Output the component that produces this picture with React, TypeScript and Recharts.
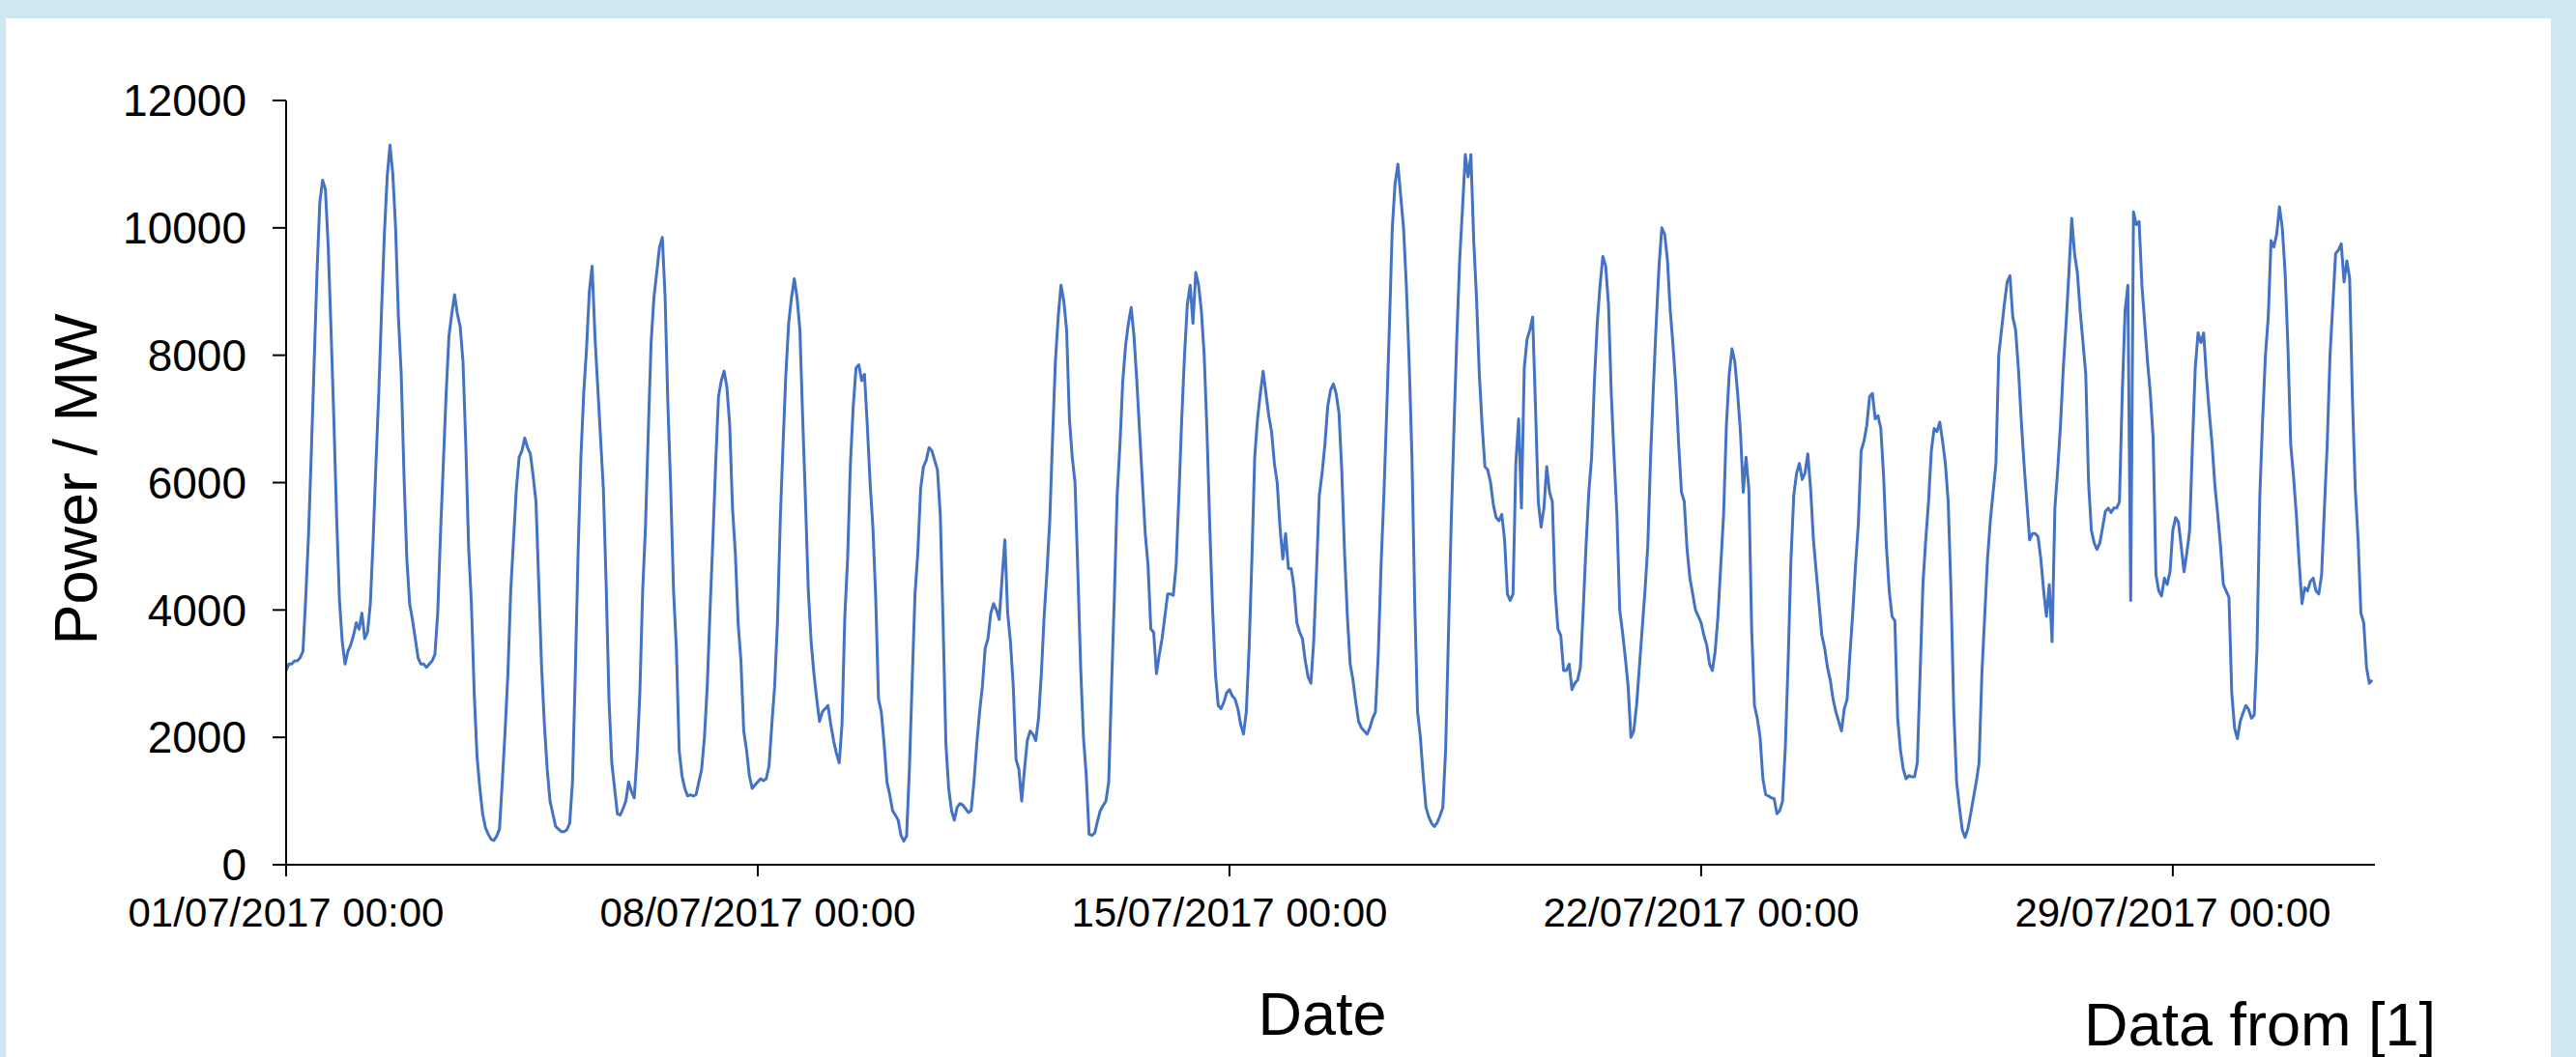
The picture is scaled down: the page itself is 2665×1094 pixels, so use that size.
import { LineChart, Line, XAxis, YAxis, Label } from 'recharts'

// hourly power readings, one line per day (MW)
const week1 = [
  3050, 3150, 3150, 3200, 3200, 3250, 3350, 4200, 5200, 6500, 7900, 9300, 10400, 10750, 10600, 9700, 8400, 7000, 5450, 4150, 3500, 3150, 3350, 3450,
  3600, 3800, 3700, 3950, 3550, 3650, 4100, 5100, 6300, 7400, 8700, 9900, 10800, 11300, 10850, 10000, 8600, 7700, 6100, 4800, 4100, 3850, 3550, 3250,
  3150, 3150, 3100, 3150, 3200, 3300, 3950, 5200, 6300, 7400, 8300, 8650, 8950, 8650, 8450, 7900, 6600, 5000, 4100, 2700, 1700, 1200, 800, 580,
  480, 400, 380, 450, 560, 1300, 2100, 3000, 4300, 5100, 5900, 6400, 6500, 6700, 6550, 6450, 6100, 5700, 4400, 3100, 2200, 1500, 1000, 800,
  600, 560, 520, 520, 550, 650, 1300, 3000, 4900, 6400, 7400, 8100, 9000, 9400, 8300, 7500, 6700, 5900, 4400, 2600, 1600, 1200, 800, 780,
  880, 1000, 1300, 1150, 1050, 1700, 2700, 4300, 5300, 6800, 8200, 8900, 9300, 9700, 9850, 8900, 7200, 5900, 4300, 3400, 1800, 1400, 1200, 1080,
  1100, 1080, 1100, 1300, 1500, 2000, 2800, 4000, 5100, 6300, 7350, 7600, 7750, 7500, 6900, 5600, 4900, 3800, 3200, 2100, 1800, 1400, 1200, 1250,
]

const week2 = [
  1300, 1350, 1320, 1350, 1550, 2200, 2800, 3800, 5400, 6600, 7700, 8500, 8900, 9200, 8900, 8400, 7000, 5700, 4300, 3500, 3000, 2600, 2250, 2400,
  2450, 2500, 2200, 1950, 1750, 1600, 2200, 3900, 4800, 6300, 7200, 7800, 7850, 7600, 7700, 6900, 6000, 5300, 4200, 2600, 2400, 1900, 1300, 1100,
  850, 780, 700, 460, 370, 450, 1500, 2900, 4250, 4900, 5900, 6250, 6350, 6550, 6500, 6350, 6200, 5500, 3800, 1900, 1200, 850, 700, 900,
  960, 940, 880, 820, 850, 1300, 1900, 2400, 2800, 3400, 3550, 3950, 4100, 4000, 3850, 4500, 5100, 3950, 3500, 2800, 1650, 1500, 1000, 1500,
  1950, 2100, 2050, 1950, 2300, 3000, 3900, 4600, 5400, 6700, 7900, 8600, 9100, 8850, 8400, 7000, 6400, 6000, 4600, 3100, 2000, 1400, 480, 460,
  500, 680, 850, 930, 1000, 1300, 2800, 4200, 5800, 6600, 7600, 8150, 8500, 8750, 8300, 7600, 6800, 6000, 5200, 4700, 3700, 3650, 3000, 3300,
  3550, 3900, 4250, 4250, 4230, 4700, 5800, 7000, 8000, 8800, 9100, 8500, 9300, 9100, 8700, 8000, 6800, 5300, 4000, 3000, 2500, 2450, 2550, 2700,
]

const week3 = [
  2750, 2650, 2600, 2450, 2200, 2050, 2400, 3400, 4800, 6400, 7000, 7400, 7750, 7400, 7050, 6800, 6300, 6000, 5300, 4800, 5200, 4650, 4650, 4350,
  3800, 3650, 3550, 3200, 2950, 2850, 3500, 4600, 5800, 6150, 6600, 7200, 7450, 7550, 7400, 7100, 6200, 4900, 3900, 3150, 2900, 2550, 2250, 2150,
  2100, 2050, 2150, 2300, 2400, 3300, 4700, 5800, 7100, 8500, 10000, 10700, 11000, 10500, 10000, 9100, 7900, 6400, 4100, 2400, 2000, 1400, 900, 750,
  650, 600, 660, 770, 900, 1800, 3600, 5400, 6900, 8300, 9500, 10300, 11150, 10800, 11150, 9800, 8900, 7700, 6900, 6250, 6200, 6000, 5650, 5450,
  5400, 5500, 5100, 4250, 4150, 4250, 6300, 7000, 5600, 7800, 8250, 8400, 8600, 7200, 5700, 5300, 5600, 6250, 5850, 5700, 4300, 3700, 3600, 3050,
  3050, 3150, 2750, 2850, 2900, 3100, 4000, 5000, 5850, 6400, 7600, 8500, 9100, 9550, 9400, 8800, 7400, 6400, 5500, 4000, 3650, 3250, 2800, 2000,
  2100, 2500, 3100, 3700, 4300, 5000, 6400, 7500, 8500, 9400, 10000, 9900, 9500, 8700, 8150, 7500, 6600, 5850, 5700, 4950, 4500, 4250, 4000, 3900,
]

const week4 = [
  3800, 3600, 3450, 3150, 3050, 3350, 3900, 4700, 5500, 6900, 7700, 8100, 7900, 7400, 6800, 5850, 6400, 5900, 3700, 2500, 2300, 2000, 1350, 1100,
  1080, 1050, 1040, 800, 850, 1000, 1850, 3200, 4800, 5800, 6150, 6300, 6050, 6150, 6450, 5900, 5100, 4600, 4100, 3600, 3400, 3100, 2900, 2600,
  2400, 2250, 2100, 2450, 2600, 3300, 3950, 4700, 5350, 6500, 6650, 6900, 7350, 7400, 7000, 7050, 6850, 6100, 5000, 4300, 3900, 3830, 2300, 1800,
  1500, 1350, 1400, 1380, 1380, 1600, 3000, 4400, 5100, 5700, 6500, 6850, 6800, 6950, 6650, 6300, 5700, 4300, 2400, 1300, 900, 550, 430, 560,
  800, 1050, 1300, 1600, 3000, 3900, 4800, 5400, 5850, 6300, 8000, 8400, 8800, 9150, 9250, 8600, 8400, 7800, 7000, 6300, 5700, 5100, 5200, 5200,
  5150, 4800, 4300, 3900, 4400, 3500, 5600, 6200, 6900, 7800, 8500, 9300, 10150, 9600, 9300, 8700, 8200, 7700, 6000, 5250, 5050, 4950, 5050, 5300,
  5550, 5600, 5530, 5600, 5600, 5700, 7400, 8700, 9100, 4150, 10250, 10050, 10100, 9100, 8500, 7900, 7400, 6700, 4550, 4300, 4220, 4500, 4400, 4600,
]

const lastDays = [
  5250, 5450, 5380, 5000, 4600, 4900, 5250, 6600, 7800, 8350, 8200, 8350, 7650, 7100, 6600, 5950, 5500, 5000, 4400, 4300, 4200, 2700, 2150, 1980,
  2250, 2380, 2500, 2440, 2300, 2350, 3400, 5800, 7000, 8000, 8600, 9800, 9700, 9900, 10330, 10000, 9300, 8150, 6600, 6100, 5500, 4750, 4100, 4350,
  4300, 4450, 4500, 4300, 4250, 4550, 5600, 6600, 8000, 8800, 9600, 9650, 9750, 9150, 9480, 9200, 7300, 5900, 5100, 3950, 3800, 3100, 2850, 2900,
]

const dateTicks = [0, 168, 336, 504, 672]
const dateLabels = ['01/07/2017 00:00', '08/07/2017 00:00', '15/07/2017 00:00', '22/07/2017 00:00', '29/07/2017 00:00']
const powerTicks = [0, 2000, 4000, 6000, 8000, 10000, 12000]

const data = [...week1, ...week2, ...week3, ...week4, ...lastDays].map((power, hour) => ({ hour, power }))

const font = 'Liberation Sans, Arial, sans-serif'
const titleStyle = { fontFamily: font, fontSize: 63, fill: '#000' }

export default function App() {
  return (
    <div
      style={{
        position: 'absolute',
        left: 0,
        top: 0,
        width: 2665,
        height: 1094,
        background: '#cde7f3',
        overflow: 'hidden',
      }}
    >
      <div style={{ position: 'absolute', left: 6, top: 19, width: 2633, height: 1075, background: '#fff' }} />
      <div style={{ position: 'absolute', left: 0, top: 0 }}>
        <LineChart width={2665} height={1094} data={data} margin={{ top: 104, right: 208, bottom: 139, left: 176 }}>
          <XAxis
            dataKey="hour"
            type="number"
            domain={[0, 744]}
            ticks={dateTicks}
            interval={0}
            tickFormatter={(h) => dateLabels[dateTicks.indexOf(h)]}
            height={60}
            tickSize={12}
            tickMargin={22}
            axisLine={{ stroke: '#000', strokeWidth: 2 }}
            tickLine={{ stroke: '#000', strokeWidth: 2 }}
            tick={{ fontFamily: font, fontSize: 42, fill: '#000' }}
          >
            <Label
              content={() => (
                <text x={1368} y={1071} textAnchor="middle" {...titleStyle}>
                  Date
                </text>
              )}
            />
            <Label
              content={() => (
                <text x={2156} y={1082} {...titleStyle}>
                  Data from [1]
                </text>
              )}
            />
          </XAxis>
          <YAxis
            domain={[0, 12000]}
            ticks={powerTicks}
            interval={0}
            width={120}
            tickSize={14}
            tickMargin={27}
            axisLine={{ stroke: '#000', strokeWidth: 2 }}
            tickLine={{ stroke: '#000', strokeWidth: 2 }}
            tick={{ fontFamily: font, fontSize: 46, fill: '#000' }}
          >
            <Label
              content={() => (
                <text x={100} y={496} textAnchor="middle" transform="rotate(-90 100 496)" {...titleStyle}>
                  Power / MW
                </text>
              )}
            />
          </YAxis>
          <Line
            dataKey="power"
            type="linear"
            stroke="#4472C4"
            strokeWidth={3}
            strokeLinejoin="round"
            dot={false}
            isAnimationActive={false}
          />
        </LineChart>
      </div>
    </div>
  )
}
